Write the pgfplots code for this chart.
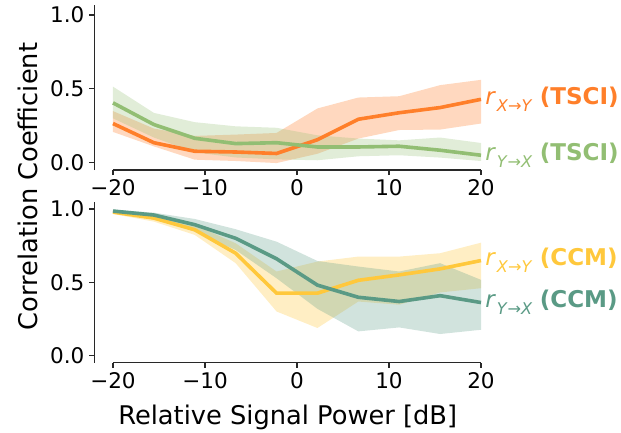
\documentclass[border=0pt]{standalone}
\usepackage{fontspec}
\setmainfont{DejaVu Sans}
\usepackage{pgfplots}
\usepackage{pgfplotstable}
\pgfplotsset{compat=1.18}
\usepgfplotslibrary{fillbetween}

\definecolor{cOr}{RGB}{255,127,42}
\definecolor{cGr}{RGB}{146,190,115}
\definecolor{cYe}{RGB}{255,200,60}
\definecolor{cTe}{RGB}{90,154,133}
\definecolor{spine}{RGB}{40,40,40}

\pgfplotstableread{
x mid lo hi
-20 0.265 0.208 0.349
-15.556 0.135 0.11 0.231
-11.111 0.077 0.02 0.181
-6.667 0.072 0.011 0.190
-2.222 0.062 -0.003 0.201
2.222 0.155 0.06 0.367
6.667 0.294 0.163 0.441
11.111 0.338 0.221 0.45
15.556 0.373 0.224 0.525
20 0.429 0.265 0.561
}\tsciXY

\pgfplotstableread{
x mid lo hi
-20 0.405 0.30 0.515
-15.556 0.258 0.17 0.337
-11.111 0.165 0.07 0.274
-6.667 0.129 0.035 0.246
-2.222 0.135 0.022 0.236
2.222 0.106 0.016 0.185
6.667 0.106 0.043 0.163
11.111 0.111 0.05 0.151
15.556 0.084 0.034 0.17
20 0.05 0.011 0.133
}\tsciYX

\pgfplotstableread{
x mid lo hi
-20 0.979 0.966 0.988
-15.556 0.938 0.914 0.952
-11.111 0.858 0.823 0.891
-6.667 0.698 0.63 0.766
-2.222 0.425 0.30 0.573
2.222 0.425 0.187 0.641
6.667 0.513 0.368 0.675
11.111 0.55 0.346 0.675
15.556 0.591 0.43 0.698
20 0.648 0.459 0.77
}\ccmXY

\pgfplotstableread{
x mid lo hi
-20 0.986 0.975 0.996
-15.556 0.959 0.945 0.975
-11.111 0.893 0.845 0.932
-6.667 0.80 0.72 0.862
-2.222 0.660 0.527 0.777
2.222 0.480 0.318 0.645
6.667 0.397 0.164 0.607
11.111 0.368 0.191 0.573
15.556 0.408 0.146 0.63
20 0.361 0.175 0.516
}\ccmYX

\newcommand{\tfont}{\fontsize{15.5}{17}\selectfont}
\newcommand{\lfont}{\fontsize{18.5}{21}\selectfont}
\newcommand{\afont}{\fontsize{16.6}{19}\selectfont}
\newcommand{\rlab}[2]{\textit{r}\kern0.5pt\raisebox{-0.32em}{\fontsize{11.6}{13}\selectfont\textit{#1}→\textit{#2}}}

\pgfplotsset{
  myax/.style={
    scale only axis,
    width=278.42pt,
    xmin=-22.03, xmax=20,
    axis lines=left,
    separate axis lines,
    x axis line style={draw=none},
    y axis line style={-, draw=spine, line width=0.8pt},
    clip=false,
    xtick={-20,-10,0,10,20},
    xticklabels={−20,−10,0,10,20},
    ytick={0,0.5,1},
    yticklabels={0.0,0.5,1.0},
    tick align=outside,
    major tick length=3.6pt,
    tick style={draw=spine, line width=0.8pt},
    ticklabel style={font=\tfont, text=black},
  },
}

\begin{document}
\begin{tikzpicture}

% top axis
\begin{axis}[myax, at={(67.90pt,-122.40pt)}, anchor=south west,
  height=118.8pt, ymin=-0.05, ymax=1.068]
  \addplot[name path=olo, draw=none, forget plot] table[x=x,y=lo]{\tsciXY};
  \addplot[name path=ohi, draw=none, forget plot] table[x=x,y=hi]{\tsciXY};
  \addplot[fill=cOr, fill opacity=0.3, draw=none] fill between[of=olo and ohi];
  \addplot[name path=glo, draw=none, forget plot] table[x=x,y=lo]{\tsciYX};
  \addplot[name path=ghi, draw=none, forget plot] table[x=x,y=hi]{\tsciYX};
  \addplot[fill=cGr, fill opacity=0.28, draw=none] fill between[of=glo and ghi];
  \addplot[cOr, line width=2.6pt] table[x=x,y=mid]{\tsciXY};
  \addplot[cGr, line width=2.6pt] table[x=x,y=mid]{\tsciYX};
  \draw[spine, line width=0.8pt] (axis cs:-20,-0.05) -- (axis cs:20,-0.05);
  \node[anchor=west, text=cOr, font=\afont, inner sep=0pt, xshift=3pt] at (axis cs:20,0.429) {\rlab{X}{Y} \textbf{(TSCI)}};
  \node[anchor=west, text=cGr, font=\afont, inner sep=0pt, xshift=3pt] at (axis cs:20,0.05) {\rlab{Y}{X} \textbf{(TSCI)}};
\end{axis}

% bottom axis
\begin{axis}[myax, at={(67.90pt,-261.14pt)}, anchor=south west,
  height=115.92pt, ymin=-0.05, ymax=1.05]
  \addplot[name path=ylo, draw=none, forget plot] table[x=x,y=lo]{\ccmXY};
  \addplot[name path=yhi, draw=none, forget plot] table[x=x,y=hi]{\ccmXY};
  \addplot[fill=cYe, fill opacity=0.3, draw=none] fill between[of=ylo and yhi];
  \addplot[name path=tlo, draw=none, forget plot] table[x=x,y=lo]{\ccmYX};
  \addplot[name path=thi, draw=none, forget plot] table[x=x,y=hi]{\ccmYX};
  \addplot[fill=cTe, fill opacity=0.28, draw=none] fill between[of=tlo and thi];
  \addplot[cYe, line width=2.6pt] table[x=x,y=mid]{\ccmXY};
  \addplot[cTe, line width=2.6pt] table[x=x,y=mid]{\ccmYX};
  \draw[spine, line width=0.8pt] (axis cs:-20,-0.05) -- (axis cs:20,-0.05);
  \node[anchor=west, text=cYe, font=\afont, inner sep=0pt, xshift=3pt] at (axis cs:20,0.648) {\rlab{X}{Y} \textbf{(CCM)}};
  \node[anchor=west, text=cTe, font=\afont, inner sep=0pt, xshift=3pt] at (axis cs:20,0.361) {\rlab{Y}{X} \textbf{(CCM)}};
\end{axis}

\node[rotate=90, font=\lfont, anchor=center] at (19.8pt,-134.3pt) {Correlation Coefficient};
\node[font=\lfont, anchor=base] at (207.1pt,-305.3pt) {Relative Signal Power [dB]};

\pgfresetboundingbox
\path[use as bounding box] (0,0) rectangle (447.12pt,-311.04pt);
\end{tikzpicture}
\end{document}
